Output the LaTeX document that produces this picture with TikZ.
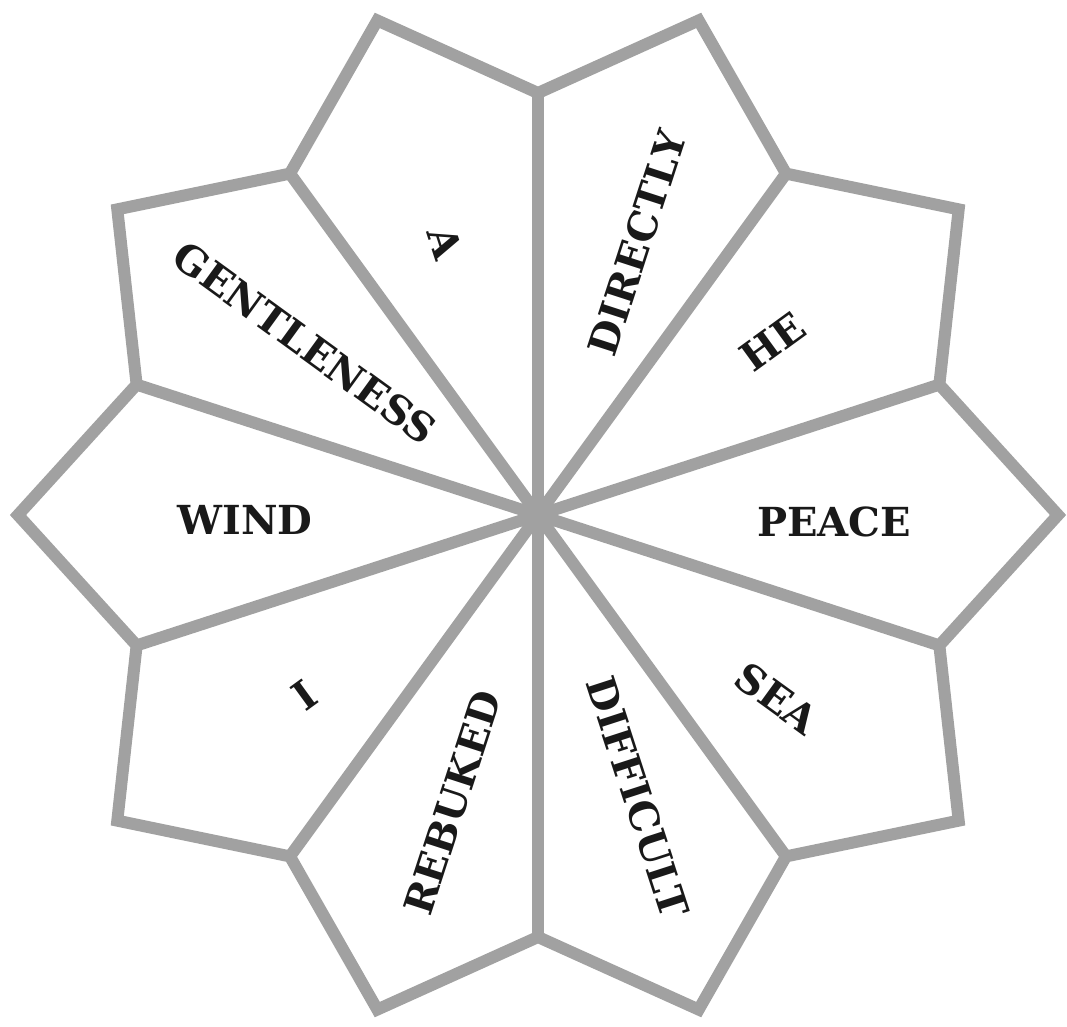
\documentclass[tikz,border=0pt]{standalone}
\usepackage{fontspec}
\setmainfont{DejaVu Serif}
\definecolor{linegray}{gray}{0.63}
\definecolor{inkblack}{gray}{0.1}
\begin{document}
\begin{tikzpicture}[x=1pt,y=1pt,
  lbl/.style={font=\fontsize{40}{48}\selectfont\bfseries, inner sep=0pt, text=inkblack},
  petal/.style={draw=linegray, line width=12pt, line join=miter}]
\useasboundingbox (-538,-511) rectangle (529,515);
\coordinate (O) at (0,0);
\foreach \k in {0,...,9}{
  \coordinate (T\k) at ({36*\k}:520);
  \coordinate (J\k) at ({18+36*\k}:422);
}
\draw[petal] (T0) -- (J0) -- (T1) -- (J1) -- (T2) -- (J2) -- (T3) -- (J3) -- (T4) -- (J4)
  -- (T5) -- (J5) -- (T6) -- (J6) -- (T7) -- (J7) -- (T8) -- (J8) -- (T9) -- (J9) -- cycle;
\foreach \k in {0,...,9}{
  \draw[petal] (O) -- (J\k);
}
\node[lbl, rotate=-36] (gentleness) at (-233,172) {GENTLENESS};
\node[lbl, rotate=-72] (a) at (-93,272) {A};
\node[lbl, rotate=72] (directly) at (99,272) {DIRECTLY};
\node[lbl, rotate=36] (he) at (235,173) {HE};
\node[lbl] (peace) at (296,-7) {PEACE};
\node[lbl, rotate=-36] (sea) at (239,-183) {SEA};
\node[lbl, rotate=-72] (difficult) at (100,-282) {DIFFICULT};
\node[lbl, rotate=72] (rebuked) at (-85,-288) {REBUKED};
\node[lbl, rotate=36] (i) at (-233,-180) {I};
\node[lbl] (wind) at (-293,-5) {WIND};
\end{tikzpicture}
\end{document}
